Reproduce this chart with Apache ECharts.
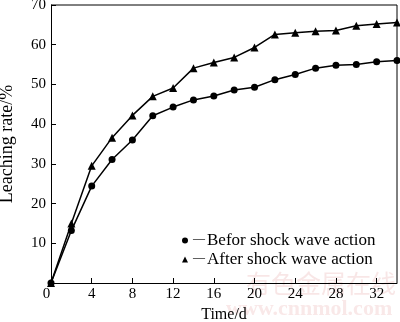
<!DOCTYPE html>
<html><head><meta charset="utf-8">
<script src="https://cdn.jsdelivr.net/npm/echarts@6/dist/echarts.min.js"></script>
<style>html,body{margin:0;padding:0;background:#fff}#c{width:400px;height:322px}</style>
</head><body><div id="c"></div>
<script>
var days = [0,2,4,6,8,10,12,14,16,18,20,22,24,26,28,30,32,34];
var before = [0,13.2,24.4,31.1,36.0,42.1,44.3,46.1,47.1,48.6,49.3,51.2,52.5,54.1,54.8,55.0,55.7,56.0];
var after = [0,15.0,29.5,36.6,42.2,47.0,49.1,54.1,55.5,56.8,59.3,62.6,63.0,63.4,63.6,64.8,65.2,65.6];
var seriesNames = ['Befor shock wave action','After shock wave action'];
var xTicks = [0,4,8,12,16,20,24,28,32];

var font = 'Liberation Serif';
function pairs(v){ return days.map(function(d,i){ return [d, v[i]]; }); }
var chart = echarts.init(document.getElementById('c'));
chart.setOption({
  animation:false,
  backgroundColor:'#fff',
  grid:{left:51,right:3,top:5,bottom:39,containLabel:false,outerBoundsMode:'none'},
  legend:{
    orient:'vertical', left:177, top:227, itemGap:2,
    itemWidth:6, itemHeight:6,
    textStyle:{fontFamily:font,fontSize:17,color:'#000',
      rich:{d:{fontFamily:font,fontSize:12,color:'#000',padding:[0,2,3,0]},
            t:{fontFamily:font,fontSize:17,color:'#000'}}},
    formatter:function(n){return '{d|\u2014}{t|'+n+'}';},
    data:[{name:seriesNames[0],icon:'circle'},{name:seriesNames[1],icon:'triangle'}]
  },
  xAxis:{
    type:'value',min:0,max:34,interval:4,
    name:'Time/d',nameLocation:'middle',nameGap:21,
    nameTextStyle:{fontFamily:font,fontSize:16,color:'#000'},
    axisLine:{lineStyle:{color:'#000',width:1}},
    axisTick:{inside:true,length:5,lineStyle:{color:'#000'},customValues:xTicks},
    axisLabel:{fontFamily:font,fontSize:15,color:'#000',margin:4,customValues:xTicks,
      formatter:function(v){return v===0?'{z|0}':String(v);},
      rich:{z:{fontFamily:font,fontSize:15,color:'#000',padding:[0,9,0,0]}}},
    splitLine:{show:false}
  },
  yAxis:{
    type:'value',min:0,max:70,interval:10,
    name:'Leaching rate/%',nameLocation:'middle',nameGap:35,
    nameTextStyle:{fontFamily:font,fontSize:18,color:'#000'},
    axisLine:{lineStyle:{color:'#000',width:1}},
    axisTick:{inside:true,length:5,lineStyle:{color:'#000'}},
    axisLabel:{fontFamily:font,fontSize:15,color:'#000',margin:5,showMinLabel:false},
    splitLine:{show:false}
  },
  graphic:[
    {type:'line',shape:{x1:397,y1:5,x2:397,y2:283},style:{stroke:'#000',lineWidth:1}},
    {type:'line',shape:{x1:51,y1:5,x2:397,y2:5},style:{stroke:'#000',lineWidth:1}},
    {type:'text',left:246,top:271,z:-1,style:{text:'有色金属在线',fontFamily:'Noto Sans CJK SC',fontSize:25,fill:'rgba(225,140,140,0.22)'}},
    {type:'text',left:226,top:298,z:-1,style:{text:'www.cnnmol.com',fontFamily:font,fontSize:22,fontWeight:'bold',fill:'rgba(225,140,140,0.2)'}}
  ],
  series:[
    {name:seriesNames[0],type:'line',data:pairs(before),symbol:'circle',symbolSize:7,
     itemStyle:{color:'#000'},lineStyle:{color:'#000',width:1.5},z:3},
    {name:seriesNames[1],type:'line',data:pairs(after),symbol:'triangle',symbolSize:8,
     itemStyle:{color:'#000'},lineStyle:{color:'#000',width:1.5},z:3}
  ]
});
</script></body></html>
